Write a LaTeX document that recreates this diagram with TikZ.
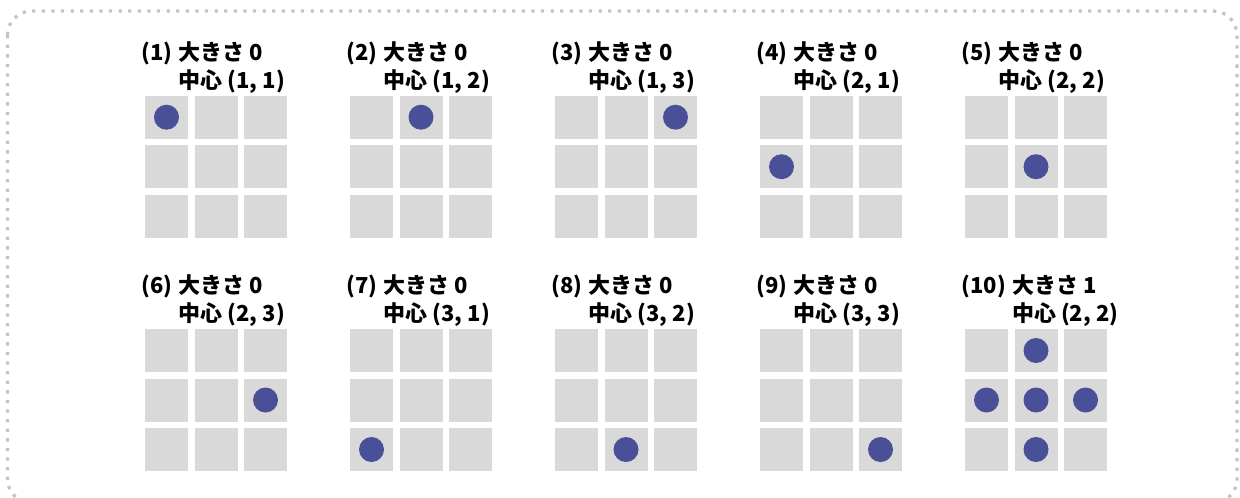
\documentclass[tikz,border=0pt]{standalone}
\usepackage{fontspec}
\setmainfont{Noto Sans CJK JP}
\definecolor{cellgray}{HTML}{D9D9D9}
\definecolor{dotblue}{RGB}{74,80,152}
\definecolor{bordergray}{HTML}{C4C4C4}
\begin{document}
\begin{tikzpicture}[x=1pt,y=-1pt,
  cell/.style={draw=none, fill=cellgray, minimum size=43pt, inner sep=0pt, outer sep=0pt},
  dot/.style={circle, fill=dotblue, minimum size=25pt, inner sep=0pt},
  lab/.style={anchor=base west, inner sep=0pt, font=\bfseries\fontsize{22pt}{28pt}\selectfont},
  border/.style={draw=bordergray, line width=3.3pt, dash pattern=on 3.3pt off 6.3pt, rounded corners=24pt}]
\useasboundingbox (0,0) rectangle (1240,498);
\draw[border] (7.5,11) rectangle (1237,503);
\foreach \n/\gx/\gy/\dr/\dc in {1/145/95.7/1/1, 2/350/95.7/1/2, 3/555/95.7/1/3, 4/760/95.7/2/1, 5/965/95.7/2/2, 6/145/329/2/3, 7/350/329/3/1, 8/555/329/3/2, 9/760/329/3/3}{
  \foreach \r in {1,2,3}{
    \foreach \c in {1,2,3}{
      \node[cell] (g\n-\r-\c) at ({\gx+21.5+(\c-1)*49.5},{\gy+21.5+(\r-1)*49.5}) {};
    }
  }
  \node[dot] (d\n) at (g\n-\dr-\dc) {};
  \node[lab] (lab\n) at (\gx-3.5,\gy-35.2) {\begin{tabular}[t]{@{}l@{\hspace{6pt}}l@{}}(\n)&大きさ 0\\&中心 (\dr, \dc)\end{tabular}};
}
\foreach \r in {1,2,3}{
  \foreach \c in {1,2,3}{
    \node[cell] (g10-\r-\c) at ({965+21.5+(\c-1)*49.5},{329+21.5+(\r-1)*49.5}) {};
  }
}
\foreach \r/\c in {1/2,2/1,2/2,2/3,3/2}{
  \node[dot] (d10-\r-\c) at (g10-\r-\c) {};
}
\node[lab] (lab10) at (961.5,293.8) {\begin{tabular}[t]{@{}l@{\hspace{6pt}}l@{}}(10)&大きさ 1\\&中心 (2, 2)\end{tabular}};
\end{tikzpicture}
\end{document}
